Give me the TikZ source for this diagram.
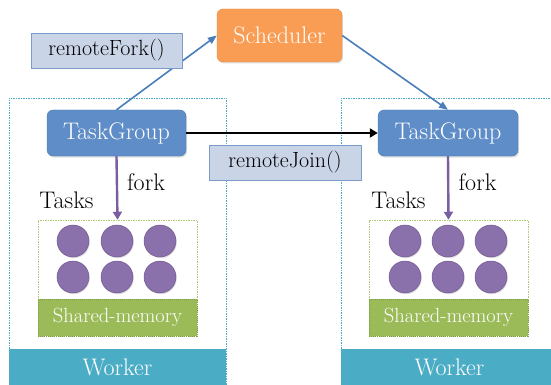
\documentclass[tikz,border=0pt]{standalone}
\usetikzlibrary{arrows.meta,shadows}
\definecolor{orangeS}{HTML}{F99D54}
\definecolor{orangeB}{HTML}{E98A3E}
\definecolor{tgblue}{HTML}{5F8DC8}
\definecolor{tgborder}{HTML}{4F7DB8}
\definecolor{lblfill}{HTML}{C9D4E7}
\definecolor{lblborder}{HTML}{7B9CCB}
\definecolor{arrblue}{HTML}{4A7EBB}
\definecolor{wkblue}{HTML}{4BACC6}
\definecolor{smgreen}{HTML}{9BBB59}
\definecolor{smborder}{HTML}{7F9B45}
\definecolor{tkfill}{HTML}{8B71AB}
\definecolor{tkborder}{HTML}{70578F}
\definecolor{forkc}{HTML}{7A5FA0}
\tikzset{
  txt/.style={font=\fontsize{24}{28}\selectfont},
  rbox/.style={txt,draw=#1,rounded corners=6pt,text=white,inner sep=0pt,
     drop shadow={shadow xshift=1pt,shadow yshift=-1.5pt,opacity=0.25}},
  lbl/.style={font=\fontsize{22}{26}\selectfont,draw=lblborder,fill=lblfill,inner sep=0pt,line width=0.8pt},
  wkbox/.style={draw=wkblue,dashed,dash pattern=on 1.5pt off 1pt,line width=0.5pt,inner sep=0pt},
  wkbar/.style={fill=wkblue,inner sep=0pt,text=white,txt},
  tkbox/.style={draw=smgreen!80,dashed,dash pattern=on 1.5pt off 1pt,line width=0.5pt,inner sep=0pt},
  smbar/.style={fill=smgreen,draw=smborder,dashed,dash pattern=on 1pt off 1pt,line width=0.4pt,inner sep=0pt,text=white,font=\fontsize{20.5}{24}\selectfont},
  task/.style={circle,fill=tkfill,draw=tkborder,line width=0.5pt,minimum size=32pt,inner sep=0pt,
     drop shadow={shadow xshift=0.8pt,shadow yshift=-1.2pt,opacity=0.25}},
  bluearr/.style={draw=arrblue,line width=1.6pt,-{Triangle[length=9pt,width=7pt]}},
  blackarr/.style={draw=black,line width=2.6pt,-{Triangle[length=8pt,width=9pt]}},
  forkarr/.style={draw=forkc,line width=2.4pt,-{Triangle[length=8pt,width=9pt]}},
  plain/.style={txt,inner sep=0pt}
}
\begin{document}
\begin{tikzpicture}[x=1pt,y=-1pt]
\useasboundingbox (0,0) rectangle (551,385);
\fill[white] (0,0) rectangle (551,385);
% workers
\node[wkbox,minimum width=217pt,minimum height=287pt] (wkl) at (117.5,241.5) {};
\node[wkbox,minimum width=217pt,minimum height=287pt] (wkr) at (449.5,241.5) {};
\node[wkbar,minimum width=217pt,minimum height=36pt] (wbl) at (117.5,367) {Worker};
\node[wkbar,minimum width=217pt,minimum height=36pt] (wbr) at (449.5,367) {Worker};
% task boxes
\node[tkbox,minimum width=159pt,minimum height=116pt] (tbl) at (117.5,278) {};
\node[tkbox,minimum width=159pt,minimum height=116pt] (tbr) at (448.5,278) {};
\node[smbar,minimum width=159pt,minimum height=37pt] (sml) at (117.5,317.5) {Shared-memory};
\node[smbar,minimum width=159pt,minimum height=37pt] (smr) at (448.5,317.5) {Shared-memory};
% tasks
\foreach \cx/\n in {73/a,117/b,160/c}{
  \node[task] (l1\n) at (\cx,241) {};
  \node[task] (l2\n) at (\cx,277) {};
}
\foreach \cx/\n in {405/a,448/b,491/c}{
  \node[task] (r1\n) at (\cx,241) {};
  \node[task] (r2\n) at (\cx,277) {};
}
% main nodes
\node[rbox=orangeB,fill=orangeS,minimum width=125pt,minimum height=53pt] (sched) at (279.5,35.5) {Scheduler};
\node[rbox=tgborder,fill=tgblue,minimum width=139pt,minimum height=46pt] (tgl) at (116.5,133) {TaskGroup};
\node[rbox=tgborder,fill=tgblue,minimum width=140pt,minimum height=46pt] (tgr) at (448,133) {TaskGroup};
% connectors
\draw[blackarr] (tgl.east) -- (tgr.west);
\draw[bluearr] (tgl.north) -- (sched.west);
\draw[bluearr] (sched.east) -- (tgr.north);
\draw[forkarr] (tgl.south) -- (tbl.north);
\draw[forkarr] (tgr.south) -- (tbr.north);
% labels
\node[lbl,minimum width=151pt,minimum height=35pt] (rf) at (106.5,50.5) {remoteFork()};
\node[lbl,minimum width=152pt,minimum height=35pt] (rj) at (285,162.5) {remoteJoin()};
\node[plain] (fl) at (146,182) {fork};
\node[plain] (fr) at (477.5,182) {fork};
\node[plain] (tl) at (66.5,200) {Tasks};
\node[plain] (tr) at (398.5,200) {Tasks};
\end{tikzpicture}
\end{document}
